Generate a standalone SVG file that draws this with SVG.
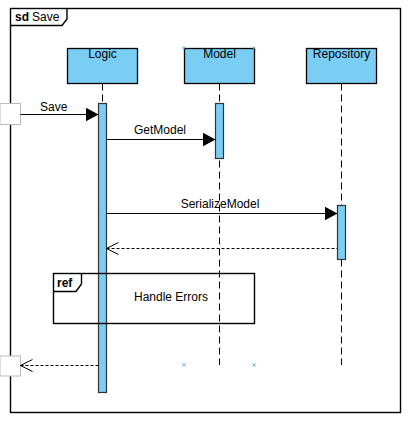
<svg xmlns="http://www.w3.org/2000/svg" width="415" height="426" viewBox="0 0 415 426">
<style>
text{font-family:"Liberation Sans",Arial,sans-serif;font-size:12px;fill:#000}
.b{font-weight:bold}
.frame{fill:none;stroke:#000;stroke-width:1.4}
.head{fill:#7ACEF4;stroke:#000;stroke-width:1.3}
.act{fill:#7ACEF4;stroke:#333;stroke-width:1.2}
.life{stroke:#000;stroke-width:1;stroke-dasharray:7,4;fill:none}
.msg{stroke:#000;stroke-width:1;fill:none}
.ret{stroke:#000;stroke-width:1;stroke-dasharray:3,2;fill:none}
.gate{fill:#fff;stroke:#bbb;stroke-width:1}
.mk{stroke:#3aa6e6;stroke-width:0.8;fill:none}
</style>
<defs>
<marker id="fill" markerWidth="14" markerHeight="14" refX="13" refY="7" orient="auto" markerUnits="userSpaceOnUse">
<path d="M0,0 L13,7 L0,14 Z" fill="#000"/>
</marker>
<marker id="open" markerWidth="14" markerHeight="14" refX="1" refY="7" orient="auto" markerUnits="userSpaceOnUse">
<path d="M13,1 L1,7 L13,13" fill="none" stroke="#000" stroke-width="1"/>
</marker>
</defs>
<g id="frame-sd">
<rect x="10.5" y="8.5" width="390" height="404" class="frame"/>
<path d="M10.5,25.5 H62 L67,19 V8.5" class="frame"/>
<text x="15" y="21" class="b">sd</text><text x="32" y="21">Save</text>
</g>
<g id="lifelines">
<line x1="102.5" y1="83.5" x2="102.5" y2="103.5" class="life"/>
<line x1="219.5" y1="83.5" x2="219.5" y2="365" class="life"/>
<line x1="341.5" y1="83.5" x2="341.5" y2="365" class="life"/>
</g>
<g id="Logic">
<rect x="67.5" y="48.5" width="70" height="35" class="head"/>
<text x="102.5" y="58" text-anchor="middle">Logic</text>
<rect x="98.5" y="103.5" width="8" height="289" class="act"/>
</g>
<g id="Model">
<rect x="184.5" y="48.5" width="70" height="35" class="head"/>
<text x="219.5" y="58" text-anchor="middle">Model</text>
<rect x="215.5" y="103.5" width="8" height="55" class="act"/>
</g>
<g id="Repository">
<rect x="306.5" y="48.5" width="70" height="35" class="head"/>
<text x="341.5" y="58" text-anchor="middle">Repository</text>
<rect x="337.5" y="205.5" width="8" height="54" class="act"/>
</g>
<g id="ref-HandleErrors">
<rect x="53.5" y="273.5" width="201" height="50" class="frame" stroke-width="1.2"/>
<path d="M53.5,291.5 H76 L81.5,284 V273.5" class="frame" stroke-width="1.2"/>
<text x="57" y="287" class="b">ref</text>
<text x="171" y="301" text-anchor="middle">Handle Errors</text>
</g>
<g id="gates">
<rect x="0" y="103.5" width="20.5" height="21" class="gate"/>
<rect x="0" y="356" width="20.5" height="20" class="gate"/>
</g>
<g id="connectors">
<line x1="20.5" y1="114.5" x2="98.5" y2="114.5" class="msg" marker-end="url(#fill)"/>
<text x="40" y="111">Save</text>
<line x1="106.5" y1="139.5" x2="215.5" y2="139.5" class="msg" marker-end="url(#fill)"/>
<text x="134" y="134">GetModel</text>
<line x1="106.5" y1="213.5" x2="337.5" y2="213.5" class="msg" marker-end="url(#fill)"/>
<text x="220" y="208" text-anchor="middle">SerializeModel</text>
<line x1="106.5" y1="248.5" x2="337.5" y2="248.5" class="ret" marker-start="url(#open)"/>
<line x1="20.5" y1="365.5" x2="98.5" y2="365.5" class="ret" marker-start="url(#open)"/>
</g>
<g id="markers">
<path d="M182.5,46.5 l3,3 m0,-3 l-3,3 M252.5,46.5 l3,3 m0,-3 l-3,3 M182.5,363.5 l3,3 m0,-3 l-3,3 M252.5,363.5 l3,3 m0,-3 l-3,3" class="mk"/>
</g>
</svg>
